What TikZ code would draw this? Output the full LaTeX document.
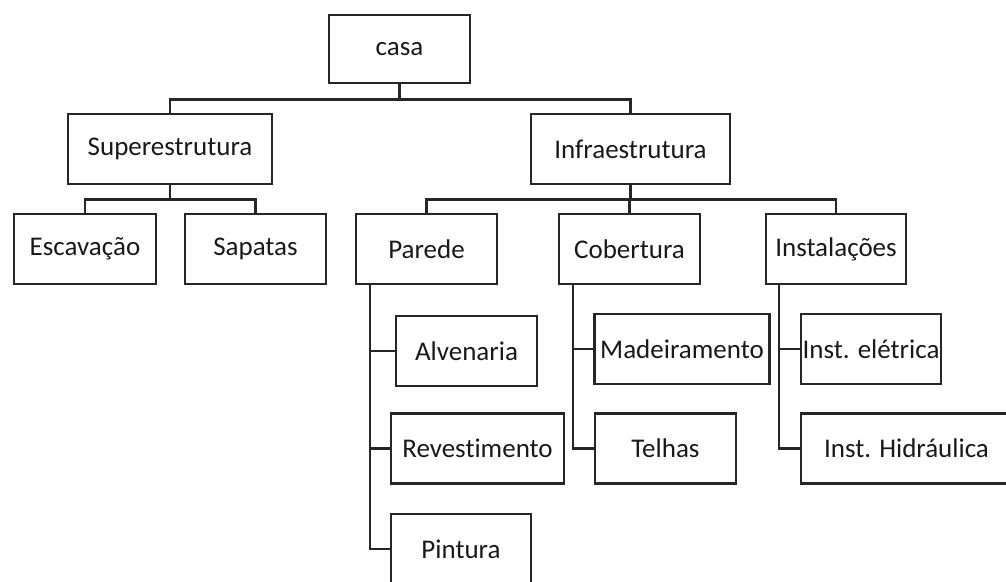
\documentclass[tikz,border=0pt]{standalone}
\usepackage{fontspec}
\setmainfont[Ligatures=NoCommon]{Carlito}
\begin{document}
\begin{tikzpicture}[x=1pt,y=-1pt,
  box/.style={draw=black!85, line width=2.8pt, inner sep=0pt, minimum width=#1, minimum height=70pt, font=\fontsize{27}{31}\selectfont, text=black!90},
  box/.default=141pt,
  conn/.style={draw=black!85, line width=2.8pt}]
\useasboundingbox (0,0) rectangle (1006,581);
\clip (0,0) rectangle (1006,581);
\node[box=141pt, minimum height=68pt] (casa) at (399.5,49) {casa};
\node[box=204pt] (super) at (170,149) {Superestrutura};
\node[box=199pt] (infra) at (630.5,149) {Infraestrutura};
\node[box=142pt] (escav) at (85,249) {Escavação};
\node[box=141pt] (sapatas) at (255.5,249) {Sapatas};
\node[box=141pt] (parede) at (426.5,249) {Parede};
\node[box=141pt] (cobert) at (629.5,249) {Cobertura};
\node[box=140pt] (instal) at (836,249) {Instalações};
\node[box=141pt] (alven) at (466.5,351) {Alvenaria};
\node[box=173pt] (revest) at (477.5,448.5) {Revestimento};
\node[box=140pt] (pintura) at (461,549) {Pintura};
\node[box=175pt] (madeir) at (682,349) {Madeiramento};
\node[box=141pt] (telhas) at (665.5,448.5) {Telhas};
\node[box=140pt] (eletr) at (871,349) {Inst. elétrica};
\node[box=211pt] (hidr) at (906.5,448.5) {Inst. Hidráulica};
% tree connectors
\draw[conn] (casa.south) -- ++(0,15) coordinate (b0);
\draw[conn] (super.north) |- (b0) -| (infra.north);
\draw[conn] (super.south) -- ++(0,14) coordinate (b1);
\draw[conn] (escav.north) |- (b1) -| (sapatas.north);
\draw[conn] (infra.south) -- ++(0,14) coordinate (b2);
\draw[conn] (parede.north) |- (b2) -| (instal.north);
\draw[conn] (cobert.north) -- (cobert.north |- b2);
% spines
\coordinate (ps) at ([xshift=-56.5pt]parede.south);
\coordinate (cs) at ([xshift=-56.5pt]cobert.south);
\coordinate (is) at ([xshift=-57pt]instal.south);
\draw[conn] (ps) |- (pintura.west);
\draw[conn] (ps |- alven.west) -- (alven.west);
\draw[conn] (ps |- revest.west) -- (revest.west);
\draw[conn] (cs) |- (telhas.west);
\draw[conn] (cs |- madeir.west) -- (madeir.west);
\draw[conn] (is) |- (hidr.west);
\draw[conn] (is |- eletr.west) -- (eletr.west);
\end{tikzpicture}
\end{document}
